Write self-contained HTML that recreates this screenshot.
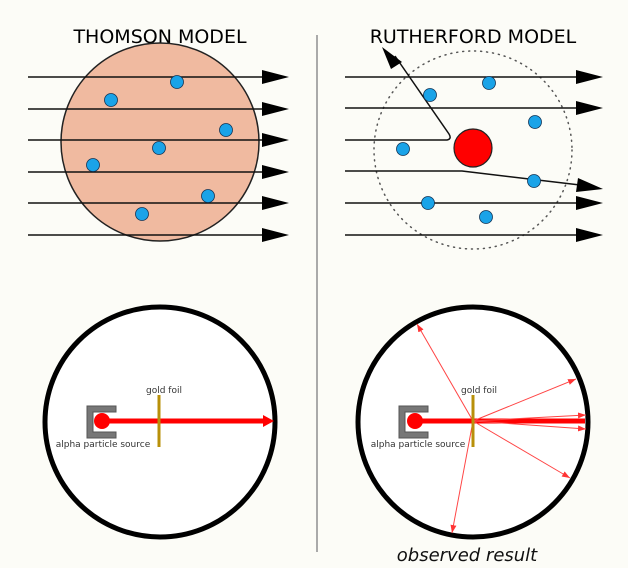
<!DOCTYPE html>
<html><head><meta charset="utf-8"><style>
html,body{margin:0;padding:0;background:#fcfcf7;}
svg{display:block;font-family:"DejaVu Sans","Liberation Sans",sans-serif;}
</style></head><body>
<svg width="628" height="568" viewBox="0 0 628 568" xmlns="http://www.w3.org/2000/svg">
<defs>
<marker id="rs" markerWidth="8" markerHeight="6" refX="8" refY="3" orient="auto" markerUnits="userSpaceOnUse"><path d="M0,0 L8,3 L0,6 z" fill="#f33"/></marker>
</defs>
<text x="160" y="43" font-size="19" text-anchor="middle">THOMSON MODEL</text>
<text x="473" y="43" font-size="19" text-anchor="middle">RUTHERFORD MODEL</text>
<line x1="317" y1="35" x2="317" y2="552" stroke="#aaa" stroke-width="2"/>
<!-- Thomson -->
<circle cx="160" cy="142" r="99" fill="#f0baa0" stroke="#222" stroke-width="1.5"/>
<g stroke="#111" stroke-width="1.5">
<line x1="28" y1="77" x2="264" y2="77"/><line x1="28" y1="109" x2="264" y2="109"/>
<line x1="28" y1="140" x2="264" y2="140"/><line x1="28" y1="172" x2="264" y2="172"/>
<line x1="28" y1="203" x2="264" y2="203"/><line x1="28" y1="235" x2="264" y2="235"/>
</g>
<g fill="#000">
<path d="M262,70 L289,77 L262,84z"/><path d="M262,102 L289,109 L262,116z"/>
<path d="M262,133 L289,140 L262,147z"/><path d="M262,165 L289,172 L262,179z"/>
<path d="M262,196 L289,203 L262,210z"/><path d="M262,228 L289,235 L262,242z"/>
</g>
<g fill="#1aa3e8" stroke="#135" stroke-width="0.8">
<circle cx="177" cy="82" r="6.5"/><circle cx="111" cy="100" r="6.5"/><circle cx="226" cy="130" r="6.5"/>
<circle cx="159" cy="148" r="6.5"/><circle cx="93" cy="165" r="6.5"/><circle cx="208" cy="196" r="6.5"/><circle cx="142" cy="214" r="6.5"/>
</g>
<!-- Rutherford -->
<circle cx="473" cy="150" r="99" fill="none" stroke="#555" stroke-width="1.5" stroke-dasharray="1 5" stroke-linecap="round"/>
<g stroke="#111" stroke-width="1.5" fill="none">
<line x1="345" y1="77" x2="578" y2="77"/><line x1="345" y1="108" x2="578" y2="108"/>
<path d="M345,140 L447,140 Q452,139 449,134 L395,56"/>
<path d="M345,171 L462,171 L580,185"/>
<line x1="345" y1="203" x2="578" y2="203"/><line x1="345" y1="235" x2="578" y2="235"/>
</g>
<g fill="#000">
<path d="M576,70 L603,77 L576,84z"/><path d="M576,101 L603,108 L576,115z"/>
<path d="M578,178 L603,189 L576,192z"/>
<path d="M576,196 L603,203 L576,210z"/><path d="M576,228 L603,235 L576,242z"/>
<path d="M382,47 L402,62 L391,69z"/>
</g>
<circle cx="473" cy="148" r="19" fill="#f00" stroke="#222" stroke-width="1.2"/>
<g fill="#1aa3e8" stroke="#135" stroke-width="0.8">
<circle cx="430" cy="95" r="6.5"/><circle cx="489" cy="83" r="6.5"/><circle cx="535" cy="122" r="6.5"/>
<circle cx="403" cy="149" r="6.5"/><circle cx="534" cy="181" r="6.5"/><circle cx="428" cy="203" r="6.5"/><circle cx="486" cy="217" r="6.5"/>
</g>
<!-- bottom left -->
<circle cx="160" cy="422" r="115" fill="#fff" stroke="#000" stroke-width="5"/>
<path d="M87,406 H116 V412 H93 V432 H116 V438 H87z" fill="#777" stroke="#555" stroke-width="1"/>
<line x1="102" y1="421" x2="264" y2="421" stroke="#f00" stroke-width="5"/>
<path d="M263,415 L274,421 L263,427z" fill="#f00"/>
<circle cx="102" cy="421" r="8" fill="#f00"/>
<line x1="159" y1="395" x2="159" y2="447" stroke="#b8900a" stroke-width="3"/>
<text x="146" y="393" font-size="9" fill="#333">gold foil</text>
<text x="103" y="447" font-size="9" text-anchor="middle" fill="#333">alpha particle source</text>
<!-- bottom right -->
<circle cx="473" cy="422" r="115" fill="#fff" stroke="#000" stroke-width="5"/>
<path d="M399,406 H428 V412 H405 V432 H428 V438 H399z" fill="#777" stroke="#555" stroke-width="1"/>
<line x1="415" y1="421" x2="585" y2="421" stroke="#f00" stroke-width="5"/>
<circle cx="415" cy="421" r="8" fill="#f00"/>
<g stroke="#f44" stroke-width="1" marker-end="url(#rs)">
<line x1="473" y1="421" x2="417" y2="324"/><line x1="473" y1="421" x2="576" y2="379"/>
<line x1="473" y1="421" x2="586" y2="415"/><line x1="473" y1="421" x2="586" y2="429"/>
<line x1="473" y1="421" x2="570" y2="478"/><line x1="473" y1="421" x2="452" y2="533"/>
</g>
<line x1="473" y1="395" x2="473" y2="447" stroke="#b8900a" stroke-width="3"/>
<text x="461" y="393" font-size="9" fill="#333">gold foil</text>
<text x="418" y="447" font-size="9" text-anchor="middle" fill="#333">alpha particle source</text>
<text x="467" y="561" font-size="18" font-style="italic" text-anchor="middle" fill="#111">observed result</text>
</svg>
</body></html>
